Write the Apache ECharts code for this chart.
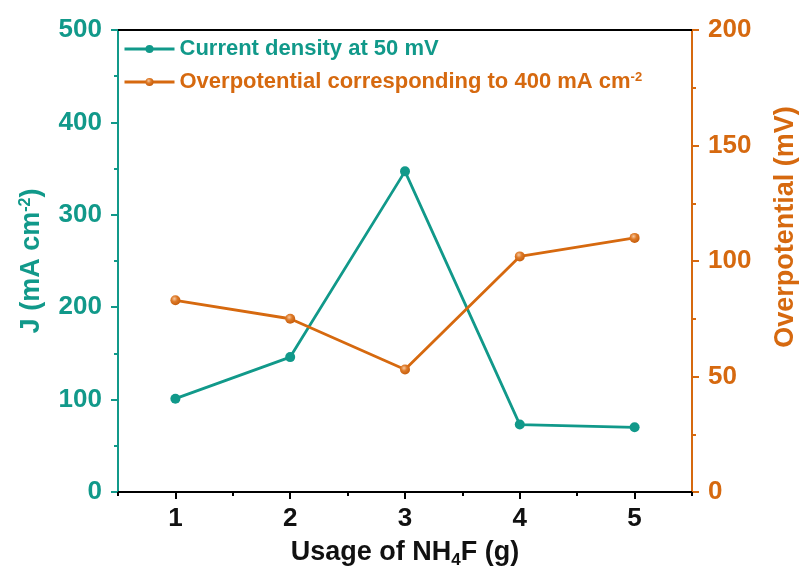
<!DOCTYPE html>
<html>
<head>
<meta charset="utf-8">
<script src="https://cdn.jsdelivr.net/npm/echarts@6/dist/echarts.min.js"></script>
<style>html,body{margin:0;padding:0;background:#fff}#c{width:799px;height:574px}</style>
</head>
<body>
<div id="c"></div>
<script>
var categories = ['1', '2', '3', '4', '5'];
var currentDensity = [101, 146, 347, 73, 70];
var overpotential = [83, 75, 53, 102, 110];
var leftTicks = [0, 500, 100];
var rightTicks = [0, 200, 50];

var TEAL = '#11998a';
var ORANGE = '#d6690f';
var FONT = 'Liberation Sans, Arial, sans-serif';

var chart = echarts.init(document.getElementById('c'));
chart.setOption({
  animation: false,
  backgroundColor: '#fff',
  grid: { left: 118, right: 107, top: 30, bottom: 82, containLabel: false, outerBoundsMode: 'none' },
  legend: {
    orient: 'vertical',
    left: 118,
    top: 32,
    itemWidth: 50,
    itemHeight: 10,
    itemGap: 9,
    lineStyle: { width: 3 },
    textStyle: {
      fontFamily: FONT, fontWeight: 'bold', fontSize: 22, lineHeight: 24,
      rich: {
        t: { fontFamily: FONT, fontWeight: 'bold', fontSize: 22, lineHeight: 24, color: ORANGE },
        sup: { fontFamily: FONT, fontWeight: 'bold', fontSize: 13, lineHeight: 13, color: ORANGE, padding: [0, 0, 10, 0] }
      }
    },
    formatter: function (name) {
      if (name.indexOf('Overpotential') === 0) {
        return '{t|Overpotential corresponding to 400 mA cm}{sup|-2}';
      }
      return name;
    },
    data: [
      { name: 'Current density at 50 mV', textStyle: { color: TEAL } },
      { name: 'Overpotential corresponding to 400 mA cm-2', textStyle: { color: ORANGE } }
    ]
  },
  xAxis: [
    {
      type: 'category',
      data: categories,
      position: 'bottom',
      boundaryGap: true,
      name: '{b|Usage of NH}{sub|4}{b|F (g)}',
      nameLocation: 'middle',
      nameGap: 45,
      nameTextStyle: {
        rich: {
          b: { fontFamily: FONT, fontWeight: 'bold', fontSize: 27, color: '#111' },
          sub: { fontFamily: FONT, fontWeight: 'bold', fontSize: 17, color: '#111', padding: [15, 0, 0, 0] }
        }
      },
      axisLine: { show: true, lineStyle: { color: '#000', width: 2 } },
      axisTick: { show: true, alignWithLabel: true, inside: false, length: 7, lineStyle: { color: '#000', width: 2 } },
      axisLabel: { margin: 14, fontFamily: FONT, fontWeight: 'bold', fontSize: 26, color: '#111' },
      splitLine: { show: false }
    },
    {
      type: 'category',
      data: categories,
      position: 'bottom',
      boundaryGap: true,
      axisLine: { show: false },
      axisTick: { show: true, alignWithLabel: false, inside: false, length: 4, lineStyle: { color: '#000', width: 2 } },
      axisLabel: { show: false },
      splitLine: { show: false }
    },
    {
      type: 'category',
      data: categories,
      position: 'top',
      axisLine: { show: true, lineStyle: { color: '#000', width: 2 } },
      axisTick: { show: false },
      axisLabel: { show: false },
      splitLine: { show: false }
    }
  ],
  yAxis: [
    {
      type: 'value',
      position: 'left',
      min: leftTicks[0], max: leftTicks[1], interval: leftTicks[2],
      name: '{b|J (mA cm}{sup|-2}{b|)}',
      nameLocation: 'middle',
      nameRotate: 90,
      nameGap: 72,
      nameTextStyle: {
        rich: {
          b: { fontFamily: FONT, fontWeight: 'bold', fontSize: 27, color: TEAL },
          sup: { fontFamily: FONT, fontWeight: 'bold', fontSize: 16, color: TEAL, padding: [0, 0, 12, 0] }
        }
      },
      axisLine: { show: true, lineStyle: { color: TEAL, width: 2 } },
      axisTick: { show: true, inside: false, length: 7, lineStyle: { color: TEAL, width: 2 } },
      minorTick: { show: true, splitNumber: 2, length: 4, lineStyle: { color: TEAL, width: 2 } },
      axisLabel: { margin: 16, fontFamily: FONT, fontWeight: 'bold', fontSize: 26, color: TEAL },
      splitLine: { show: false }
    },
    {
      type: 'value',
      position: 'right',
      min: rightTicks[0], max: rightTicks[1], interval: rightTicks[2],
      name: 'Overpotential (mV)',
      nameLocation: 'middle',
      nameRotate: 90,
      nameGap: 80,
      nameTextStyle: { fontFamily: FONT, fontWeight: 'bold', fontSize: 27, color: ORANGE, padding: [0, 0, 0, 68] },
      axisLine: { show: true, lineStyle: { color: ORANGE, width: 2 } },
      axisTick: { show: true, inside: false, length: 7, lineStyle: { color: ORANGE, width: 2 } },
      minorTick: { show: true, splitNumber: 2, length: 4, lineStyle: { color: ORANGE, width: 2 } },
      axisLabel: { margin: 16, fontFamily: FONT, fontWeight: 'bold', fontSize: 26, color: ORANGE },
      splitLine: { show: false }
    }
  ],
  series: [
    {
      name: 'Current density at 50 mV',
      type: 'line',
      xAxisIndex: 0,
      yAxisIndex: 0,
      data: currentDensity,
      symbol: 'circle',
      symbolSize: 10,
      lineStyle: { color: TEAL, width: 2.8 },
      itemStyle: { color: TEAL }
    },
    {
      name: 'Overpotential corresponding to 400 mA cm-2',
      type: 'line',
      xAxisIndex: 0,
      yAxisIndex: 1,
      data: overpotential,
      symbol: 'circle',
      symbolSize: 10,
      lineStyle: { color: ORANGE, width: 2.8 },
      itemStyle: {
        color: {
          type: 'radial', x: 0.4, y: 0.35, r: 0.65,
          colorStops: [
            { offset: 0, color: '#f6c8a0' },
            { offset: 0.45, color: '#de7a28' },
            { offset: 1, color: '#c65e0c' }
          ]
        }
      }
    }
  ]
});
</script>
</body>
</html>
